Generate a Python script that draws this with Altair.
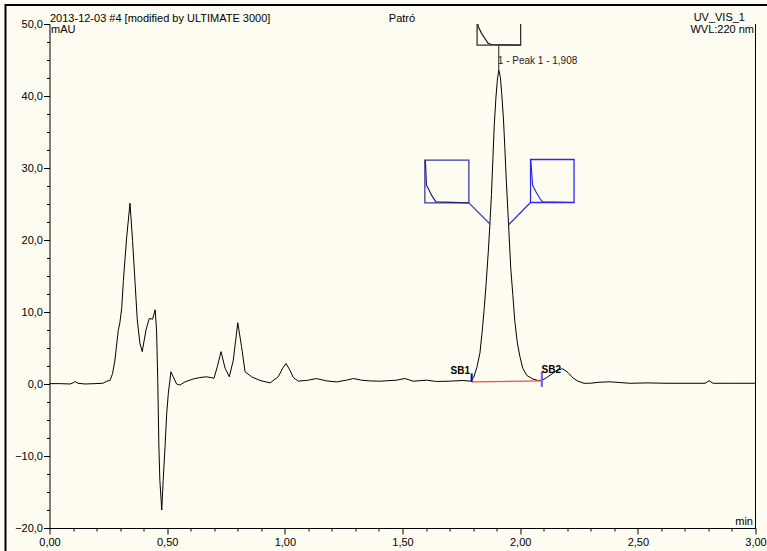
import altair as alt
import pandas as pd

# ---- chromatogram trace (time in min, signal in mAU) ----
time_min = [0.000, 0.045, 0.087, 0.100, 0.108, 0.121, 0.151, 0.193, 0.227, 0.244,
            0.257, 0.268, 0.278, 0.292, 0.299, 0.307, 0.314, 0.328, 0.342, 0.353,
            0.363, 0.373, 0.384, 0.394, 0.410, 0.424, 0.438, 0.449, 0.455, 0.460,
            0.465, 0.469, 0.477, 0.483, 0.491, 0.498, 0.505, 0.516, 0.526, 0.540,
            0.554, 0.576, 0.611, 0.639, 0.668, 0.699, 0.713, 0.729, 0.746, 0.764,
            0.781, 0.800, 0.816, 0.831, 0.859, 0.894, 0.937, 0.972, 0.991, 1.005,
            1.022, 1.036, 1.057, 1.093, 1.135, 1.177, 1.220, 1.262, 1.291, 1.326,
            1.361, 1.404, 1.475, 1.510, 1.545, 1.602, 1.645, 1.700, 1.758, 1.789,
            1.803, 1.816, 1.829, 1.839, 1.848, 1.856, 1.865, 1.871, 1.878, 1.884,
            1.890, 1.897, 1.903, 1.909, 1.916, 1.922, 1.929, 1.935, 1.941, 1.948,
            1.954, 1.960, 1.969, 1.977, 1.988, 1.999, 2.011, 2.028, 2.054, 2.075,
            2.092, 2.113, 2.139, 2.160, 2.181, 2.203, 2.224, 2.245, 2.271, 2.296,
            2.339, 2.381, 2.424, 2.466, 2.539, 2.624, 2.709, 2.786, 2.803, 2.820,
            2.904, 3.000]
signal_mau = [0.05, 0.05, 0.00, 0.15, 0.35, 0.10, 0.00, 0.05, 0.10, 0.40,
              0.50, 1.45, 3.30, 7.40, 8.50, 10.6, 14.4, 20.4, 25.1, 19.9,
              14.4, 8.90, 5.70, 4.50, 7.50, 9.10, 9.00, 10.3, 7.50, 0.50,
              -8.9, -13.4, -17.5, -13.4, -8.7, -4.1, -1.3, 1.70, 1.00, 0.00,
              -0.15, 0.30, 0.70, 0.90, 1.00, 0.80, 2.40, 4.50, 2.20, 1.00,
              3.30, 8.50, 5.20, 1.70, 1.00, 0.50, 0.15, 1.00, 2.20, 2.85,
              1.90, 0.90, 0.40, 0.50, 0.75, 0.43, 0.29, 0.53, 0.76, 0.53,
              0.43, 0.39, 0.53, 0.76, 0.39, 0.53, 0.35, 0.39, 0.49, 0.39,
              0.95, 2.30, 4.30, 7.40, 10.8, 14.2, 18.6, 22.0, 26.3, 31.2,
              36.0, 39.8, 42.2, 43.6, 42.6, 40.2, 36.8, 32.7, 28.3, 23.9,
              20.0, 16.1, 12.3, 8.80, 5.70, 3.80, 2.20, 1.20, 0.70, 0.50,
              0.50, 0.90, 1.50, 2.00, 2.10, 1.60, 0.85, 0.40, 0.10, 0.10,
              0.25, 0.30, 0.20, 0.10, 0.15, 0.10, 0.10, 0.10, 0.45, 0.10,
              0.10, 0.10]

# ---- axis ticks ----
x_major_ticks = [0.0, 0.5, 1.0, 1.5, 2.0, 2.5, 3.0]
x_minor_ticks = [0.1, 0.2, 0.3, 0.4, 0.6, 0.7, 0.8, 0.9, 1.1, 1.2, 1.3, 1.4,
                 1.6, 1.7, 1.8, 1.9, 2.1, 2.2, 2.3, 2.4, 2.6, 2.7, 2.8, 2.9]
y_major_ticks = [-20, -10, 0, 10, 20, 30, 40, 50]
y_minor_ticks = [-17.5, -15, -12.5, -7.5, -5, -2.5, 2.5, 5, 7.5, 12.5, 15, 17.5,
                 22.5, 25, 27.5, 32.5, 35, 37.5, 42.5, 45, 47.5]

# ---- peak annotation ----
peak_label = ["1 - Peak 1 - 1,908"]
peak_label_t = [1.905]
peak_label_v = [44.8]
stem_t = [1.909]
stem_v1 = [47.06]
stem_v2 = [43.6]

# inset boxes (zoom windows)
box_names = ["left", "right", "top"]
box_t1 = [1.595, 2.044, 1.817]
box_t2 = [1.782, 2.229, 2.002]
box_v1 = [25.15, 25.21, 47.06]
box_v2 = [31.08, 31.18, 54.0]
box_colors = ["#3C3CA2", "#2A2AF2", "#333333"]

conn_names = ["left", "right"]
conn_t1 = [1.782, 2.044]
conn_v1 = [25.15, 25.21]
conn_t2 = [1.874, 1.952]
conn_v2 = [22.15, 22.15]

left_curve_t = [1.597, 1.602, 1.613, 1.624, 1.642, 1.782]
left_curve_v = [31.08, 27.6, 26.9, 26.2, 25.3, 25.15]
right_curve_t = [2.045, 2.053, 2.067, 2.084, 2.095, 2.229]
right_curve_v = [31.08, 27.6, 26.7, 25.76, 25.3, 25.21]
top_curve_t = [1.818, 1.822, 1.836, 1.850, 1.864, 1.878, 2.002]
top_curve_v = [51.0, 49.6, 48.7, 48.0, 47.3, 47.15, 47.06]

# baseline markers
sb_names = ["SB1", "SB2"]
sb_t = [1.794, 2.092]
sb_lo = [0.29, -0.40]
sb_hi = [1.46, 1.68]
sb_colors = ["#0000C8", "#5A5AFF"]
sb_text_t = [1.787, 2.091]
sb_text_v = [1.85, 1.99]
sb_align = ["right", "left"]
baseline_t = [1.794, 2.092]
baseline_v = [0.29, 0.43]

FONT = "Liberation Sans"
BG = "#FFFCF1"

xs = alt.Scale(domain=[0, 3], nice=False, zero=False)
ys = alt.Scale(domain=[-20, 50], nice=False, zero=False)

trace = pd.DataFrame({"t": time_min, "v": signal_mau})

x_axis = alt.Axis(values=x_major_ticks, orient="bottom", title=None, grid=False,
                  labelExpr="replace(format(datum.value, '.2f'), '.', ',')",
                  tickSize=6, labelPadding=2, domainColor="black", tickColor="black",
                  labelColor="black", labelFont=FONT, labelFontSize=11,
                  domainWidth=1, tickWidth=1, labelFlush=False, labelOverlap=False)
y_axis = alt.Axis(values=y_major_ticks, orient="left", title=None, grid=False,
                  labelExpr="replace(format(datum.value, '.1f'), '.', ',')",
                  tickSize=6, labelPadding=1, domainColor="black", tickColor="black",
                  labelColor="black", labelFont=FONT, labelFontSize=11,
                  domainWidth=1, tickWidth=1, labelFlush=False, labelOverlap=False)
x_minor = alt.Axis(values=x_minor_ticks, orient="bottom", title=None, grid=False,
                   labels=False, domain=False, tickSize=3, tickColor="black", tickWidth=1)
y_minor = alt.Axis(values=y_minor_ticks, orient="left", title=None, grid=False,
                   labels=False, domain=False, tickSize=3, tickColor="black", tickWidth=1)

line = alt.Chart(trace).mark_line(color="black", strokeWidth=1, clip=True).encode(
    x=alt.X("t:Q", scale=xs, axis=x_axis),
    y=alt.Y("v:Q", scale=ys, axis=y_axis),
    order="t:Q",
)
minor = alt.Chart(trace).mark_point(opacity=0).encode(
    x=alt.X("t:Q", scale=xs, axis=x_minor),
    y=alt.Y("v:Q", scale=ys, axis=y_minor),
)

right_border = alt.Chart(pd.DataFrame({"t": [3.0], "a": [-20], "b": [50]})).mark_rule(
    color="black", strokeWidth=1).encode(
    x=alt.X("t:Q", scale=xs, axis=None),
    y=alt.Y("a:Q", scale=ys, axis=None), y2="b:Q")

boxes = alt.Chart(pd.DataFrame({"n": box_names, "t1": box_t1, "t2": box_t2,
                                "v1": box_v1, "v2": box_v2, "c": box_colors})
                  ).mark_rect(fillOpacity=0, strokeWidth=1.3, clip=True).encode(
    x=alt.X("t1:Q", scale=xs, axis=None), x2="t2:Q",
    y=alt.Y("v1:Q", scale=ys, axis=None), y2="v2:Q",
    stroke=alt.Stroke("c:N", scale=None))

conns = alt.Chart(pd.DataFrame({"n": conn_names, "t1": conn_t1, "t2": conn_t2,
                                "v1": conn_v1, "v2": conn_v2, "c": box_colors[:2]})
                  ).mark_rule(strokeWidth=1.2).encode(
    x=alt.X("t1:Q", scale=xs, axis=None), x2="t2:Q",
    y=alt.Y("v1:Q", scale=ys, axis=None), y2="v2:Q",
    color=alt.Color("c:N", scale=None))

stem = alt.Chart(pd.DataFrame({"t": stem_t, "a": stem_v1, "b": stem_v2})).mark_rule(
    color="#222222", strokeWidth=1).encode(
    x=alt.X("t:Q", scale=xs, axis=None),
    y=alt.Y("a:Q", scale=ys, axis=None), y2="b:Q")

curves_df = pd.concat([
    pd.DataFrame({"g": "left", "t": left_curve_t, "v": left_curve_v, "i": range(len(left_curve_t))}),
    pd.DataFrame({"g": "right", "t": right_curve_t, "v": right_curve_v, "i": range(len(right_curve_t))}),
    pd.DataFrame({"g": "top", "t": top_curve_t, "v": top_curve_v, "i": range(len(top_curve_t))}),
])
curves = alt.Chart(curves_df).mark_line(strokeWidth=1.2, clip=True).encode(
    x=alt.X("t:Q", scale=xs, axis=None),
    y=alt.Y("v:Q", scale=ys, axis=None),
    detail="g:N", order="i:Q",
    color=alt.Color("g:N", scale=alt.Scale(domain=["left", "right", "top"],
                                          range=["#202088", "#2A2AF2", "#222222"]),
                    legend=None))

peak_text = alt.Chart(pd.DataFrame({"s": peak_label, "t": peak_label_t, "v": peak_label_v})
                      ).mark_text(align="left", baseline="middle", font=FONT, fontSize=10,
                                  color="#222222").encode(
    x=alt.X("t:Q", scale=xs, axis=None), y=alt.Y("v:Q", scale=ys, axis=None), text="s:N")

baseline_df = pd.DataFrame({"t": baseline_t, "v": baseline_v})
baseline = alt.Chart(baseline_df).mark_line(color="#FF4848", strokeWidth=1.4).encode(
    x=alt.X("t:Q", scale=xs, axis=None), y=alt.Y("v:Q", scale=ys, axis=None))

sb_df = pd.DataFrame({"n": sb_names, "t": sb_t, "lo": sb_lo, "hi": sb_hi, "c": sb_colors,
                      "tt": sb_text_t, "tv": sb_text_v, "al": sb_align})
sb_ticks = alt.Chart(sb_df).mark_rule(strokeWidth=2).encode(
    x=alt.X("t:Q", scale=xs, axis=None),
    y=alt.Y("lo:Q", scale=ys, axis=None), y2="hi:Q",
    color=alt.Color("c:N", scale=None))
sb1_text = alt.Chart(sb_df.iloc[[0]]).mark_text(align="right", baseline="middle", font=FONT,
                                                fontSize=10, fontWeight="bold", color="black").encode(
    x=alt.X("tt:Q", scale=xs, axis=None), y=alt.Y("tv:Q", scale=ys, axis=None), text="n:N")
sb2_text = alt.Chart(sb_df.iloc[[1]]).mark_text(align="left", baseline="middle", font=FONT,
                                                fontSize=10, fontWeight="bold", color="black").encode(
    x=alt.X("tt:Q", scale=xs, axis=None), y=alt.Y("tv:Q", scale=ys, axis=None), text="n:N")


def label(txt, px, py, align, size=11):
    return alt.Chart(pd.DataFrame({"s": [txt]})).mark_text(
        align=align, baseline="alphabetic", font=FONT, fontSize=size, color="black").encode(
        x=alt.value(px), y=alt.value(py), text="s:N")


PL, PT = 49.5, 24
header_left = label("2013-12-03 #4 [modified by ULTIMATE 3000]", 50 - PL, 22 - PT, "left")
header_mid = label("Patró", 402 - PL, 22 - PT, "center")
header_right = label("UV_VIS_1", 745 - PL, 21 - PT, "right")
wvl = label("WVL:220 nm", 754 - PL, 33 - PT, "right")
mau = label("mAU", 51 - PL, 33 - PT, "left")
mins = label("min", 753 - PL, 525 - PT, "right")

frame_top = alt.Chart(pd.DataFrame({"k": [0]})).mark_rule(color="black", strokeWidth=2).encode(
    x=alt.value(5 - PL), x2=alt.value(767 - PL), y=alt.value(5 - PT))
frame_left = alt.Chart(pd.DataFrame({"k": [0]})).mark_rule(color="black", strokeWidth=2).encode(
    x=alt.value(5.5 - PL), y=alt.value(4 - PT), y2=alt.value(551 - PT))

chart = alt.layer(
    line, minor, right_border, boxes, conns, stem, curves, peak_text,
    baseline, sb_ticks, sb1_text, sb2_text,
    header_left, header_mid, header_right, wvl, mau, mins, frame_top, frame_left,
).resolve_axis(x="independent", y="independent").properties(
    width=706, height=504,
    padding={"left": PL, "top": PT, "right": 767 - PL - 706, "bottom": 551 - PT - 504},
    autosize=alt.AutoSizeParams(type="none"),
    background=BG,
).configure_view(stroke=None)

chart.save("out.html", embed_options={"renderer": "svg", "actions": False})
